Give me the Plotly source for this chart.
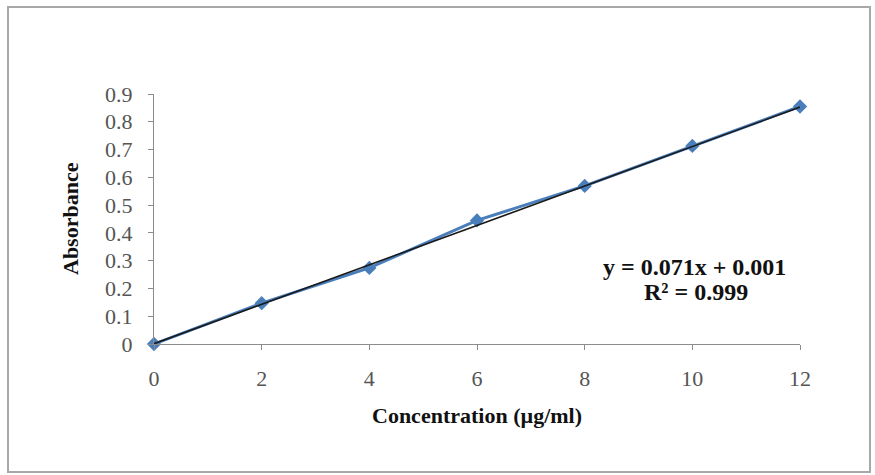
import plotly.graph_objects as go

concentration = [0, 2, 4, 6, 8, 10, 12]
absorbance = [0, 0.147, 0.274, 0.445, 0.569, 0.713, 0.855]
slope = 0.071
intercept = 0.001
r_squared = 0.999
x_ticks = [0, 2, 4, 6, 8, 10, 12]
y_ticks = [0, 0.1, 0.2, 0.3, 0.4, 0.5, 0.6, 0.7, 0.8, 0.9]
y_tick_labels = ["0", "0.1", "0.2", "0.3", "0.4", "0.5", "0.6", "0.7", "0.8", "0.9"]

trend_x = [concentration[0], concentration[-1]]
trend_y = [slope * v + intercept for v in trend_x]

FONT = "Liberation Serif, Times New Roman, serif"

fig = go.Figure()
fig.add_trace(go.Scatter(
    x=concentration, y=absorbance, mode="lines+markers",
    line=dict(color="#4A7EBB", width=3),
    marker=dict(symbol="diamond", size=11, color="#4A7EBB"),
    cliponaxis=False, showlegend=False))
fig.add_trace(go.Scatter(
    x=trend_x, y=trend_y, mode="lines",
    line=dict(color="#1a1a1a", width=1.6),
    cliponaxis=False, showlegend=False))

L, R, T, B = 154, 875 - 800, 94, 475 - 344
W, H = 875 - L - R, 475 - T - B

def px_x(p):
    return (p - L) / W

def px_y(p):
    return (475 - B - p) / H

fig.update_layout(
    width=875, height=475,
    margin=dict(l=L, r=R, t=T, b=B),
    paper_bgcolor="white", plot_bgcolor="white",
    font=dict(family=FONT, color="#555555", size=22),
    xaxis=dict(range=[0, 12], tickvals=x_ticks, showgrid=False, zeroline=False,
               showline=True, linecolor="#8c8c8c", linewidth=1,
               ticks="outside", ticklen=5, tickcolor="#8c8c8c",
               ticklabelstandoff=10, tickfont=dict(size=22, color="#555555")),
    yaxis=dict(range=[0, 0.9], tickvals=y_ticks, ticktext=y_tick_labels,
               showgrid=False, zeroline=False,
               showline=True, linecolor="#8c8c8c", linewidth=1,
               ticks="outside", ticklen=5, tickcolor="#8c8c8c",
               ticklabelstandoff=11, tickfont=dict(size=22, color="#555555")),
    shapes=[dict(type="rect", xref="paper", yref="paper",
                 x0=px_x(8), x1=px_x(870), y0=px_y(472), y1=px_y(7),
                 line=dict(color="#a8a8a8", width=2), layer="below")],
    annotations=[
        dict(text="<b>Concentration (µg/ml)</b>", xref="paper", yref="paper",
             x=0.5, y=px_y(415), xanchor="center", yanchor="middle", showarrow=False,
             font=dict(family=FONT, size=22, color="#111111")),
        dict(text="<b>Absorbance</b>", xref="paper", yref="paper",
             x=px_x(70), y=0.5, xanchor="center", yanchor="middle",
             textangle=-90, showarrow=False,
             font=dict(family=FONT, size=22, color="#111111")),
        dict(text=f"<b>y = {slope}x + {intercept}</b>", xref="paper", yref="paper",
             x=px_x(694), y=px_y(267), xanchor="center", yanchor="middle", showarrow=False,
             font=dict(family=FONT, size=24, color="#111111")),
        dict(text=f"<b>R² = {r_squared}</b>", xref="paper", yref="paper",
             x=px_x(696), y=px_y(292), xanchor="center", yanchor="middle", showarrow=False,
             font=dict(family=FONT, size=24, color="#111111")),
    ],
)

fig.write_html("out.html", config={"displayModeBar": False},
               post_script="document.body.style.margin='0';")
